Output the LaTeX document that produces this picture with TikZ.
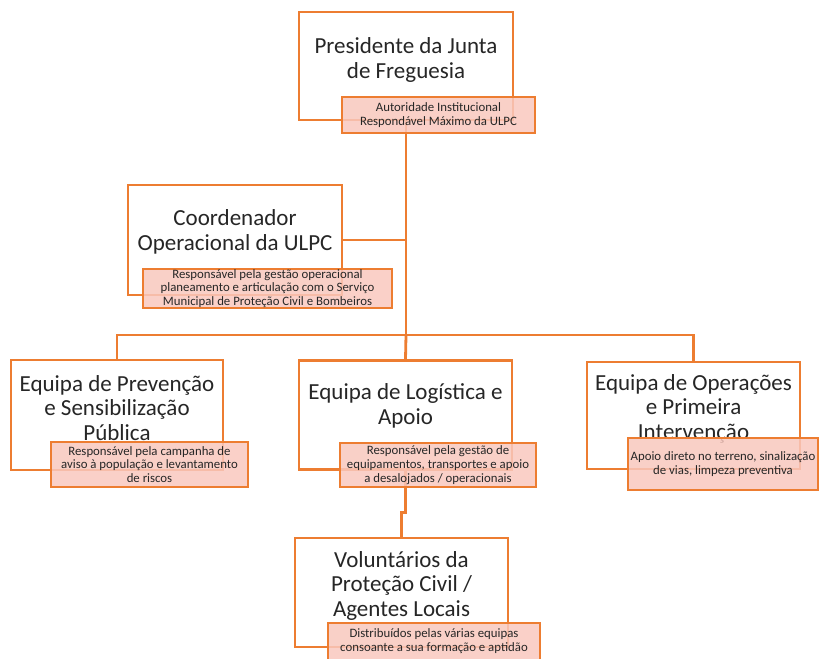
\documentclass[tikz,border=0pt]{standalone}
\usepackage{fontspec}
\setmainfont{Carlito}
\definecolor{orgline}{HTML}{ED7D31}
\definecolor{subfill}{HTML}{F9C8BE}
\definecolor{txtgray}{HTML}{262626}

\begin{document}
\begin{tikzpicture}[x=1pt, y=1pt,
  orgbox/.style={draw=orgline, line width=2.8pt, fill=white, minimum width=213pt, minimum height=109pt},
  maintxt/.style={align=center, text=txtgray, font=\fontsize{23}{24.5}\selectfont},
  subbox/.style={draw=orgline, line width=2.6pt, fill=subfill, fill opacity=0.85, text opacity=1,
    align=center, inner sep=0pt, text=txtgray, font=\fontsize{12.8}{13.8}\selectfont},
  link/.style={draw=orgline, line width=2.8pt}]
  \useasboundingbox (0,0) rectangle (821,658);

  % boxes
  \node[orgbox, minimum width=214pt, minimum height=108pt] (pres) at (406,592) {};
  \node[orgbox, minimum width=214pt, minimum height=110pt] (coord) at (235,418) {};
  \node[orgbox, minimum width=212pt, minimum height=110pt] (prev) at (117,243) {};
  \node[orgbox] (log) at (405.5,243) {};
  \node[orgbox, minimum height=107pt] (ops) at (693.5,242.5) {};
  \node[orgbox] (vol) at (401.5,65.5) {};

  \node[maintxt] (prestxt) at ([yshift=6pt]pres.center) {Presidente da Junta\\de Freguesia};
  \node[maintxt] (coordtxt) at ([yshift=8pt]coord.center) {Coordenador\\Operacional da ULPC};
  \node[maintxt] (prevtxt) at ([yshift=7pt]prev.center) {Equipa de Prevenção\\e Sensibilização\\Pública};
  \node[maintxt] (logtxt) at ([yshift=9pt]log.center) {Equipa de Logística e\\Apoio};
  \node[maintxt] (opstxt) at ([yshift=7pt]ops.center) {Equipa de Operações\\e Primeira\\Intervenção};
  \node[maintxt] (voltxt) at ([yshift=7pt]vol.center) {Voluntários da\\Proteção Civil /\\Agentes Locais};

  % connectors
  \coordinate (bus) at (0,323);
  \draw[link] (pres.south) -- (pres.south |- bus);
  \draw[link] (coord.east) -- (coord.east -| pres.south);
  \draw[link] (prev.north) |- (ops.north |- bus) -- (ops.north);
  \draw[link] (pres.south |- bus) -- (log.north);
  \draw[link] (log.south) -- ++(0,-42) -| (vol.north);

  % descriptions
  \node[subbox, minimum width=193pt, minimum height=36pt] (pressub) at (438.5,543)
    {Autoridade Institucional\\Respondável Máximo da ULPC};
  \node[subbox, minimum width=249pt, minimum height=39pt] (coordsub) at (267.5,369.5)
    {Responsável pela gestão operacional\\planeamento e articulação com o Serviço\\Municipal de Proteção Civil e Bombeiros};
  \node[subbox, minimum width=197pt, minimum height=45pt] (prevsub) at (149.5,193.5)
    {Responsável pela campanha de\\aviso à população e levantamento\\de riscos};
  \node[subbox, minimum width=196pt, minimum height=44pt] (logsub) at (438,193)
    {Responsável pela gestão de\\equipamentos, transportes e apoio\\a desalojados / operacionais};
  \node[subbox, minimum width=190pt, minimum height=52pt] (opssub) at (723,194)
    {Apoio direto no terreno, sinalização\\de vias, limpeza preventiva};
  \node[subbox, minimum width=212pt, minimum height=37pt] (volsub) at (434,16.5)
    {Distribuídos pelas várias equipas\\consoante a sua formação e aptidão};
\end{tikzpicture}
\end{document}
